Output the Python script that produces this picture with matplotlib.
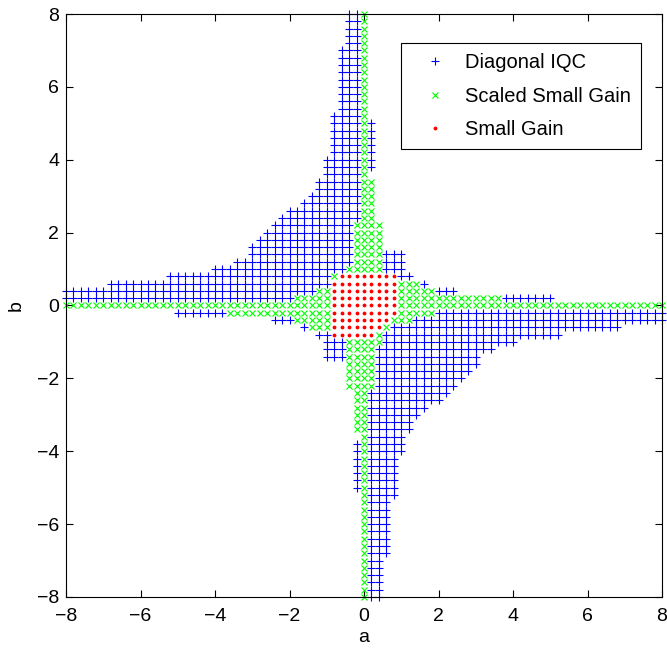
"""
Regions of (a, b) where each stability test succeeds, grid step 0.2.
"""

import numpy as np
from matplotlib import pyplot as plt

# grid of (a, b) values that were tested
a_values = np.round(np.arange(-40, 41) * 0.2, 1)
b_values = np.round(np.arange(-40, 41) * 0.2, 1)

# boxes (a_min, a_max, b_min, b_max)
diag_iqc_boxes = [
    # upper arm / left arm
    (-0.4, -0.2, 7.2, 8.0),
    (-0.6, -0.2, 5.4, 7.0),
    (-0.8, -0.2, 4.2, 5.2),
    (-1.0, -0.2, 3.6, 4.0),
    (-1.2, -0.2, 3.2, 3.4),
    (-1.4, -0.2, 3.0, 3.0),
    (-1.6, -0.2, 2.8, 2.8),
    (-2.0, -0.2, 2.6, 2.6),
    (-2.2, -0.2, 2.4, 2.4),
    (-2.4, -0.2, 2.2, 2.2),
    (-2.6, -0.2, 2.0, 2.0),
    (-2.8, -0.2, 1.8, 1.8),
    (-3.0, -0.2, 1.6, 1.6),
    (-3.0, -0.2, 1.4, 1.4),
    (-3.4, -0.2, 1.2, 1.2),
    (-4.0, -0.2, 1.0, 1.0),
    (-5.2, -0.2, 0.8, 0.8),
    (-6.8, -0.2, 0.6, 0.6),
    (-8.0, -0.2, 0.2, 0.4),
    (-5.0, -3.8, -0.2, -0.2),
    (-2.4, -2.0, -0.4, -0.4),
    (-1.6, -1.6, -0.6, -0.6),
    (0.2, 0.2, 3.8, 5.0),
    (0.6, 1.0, 1.0, 1.4),
    (1.0, 1.2, 0.8, 0.8),
    # lower arm / right arm
    (0.2, 0.4, -8.0, -7.0),
    (0.2, 0.6, -6.8, -5.4),
    (0.2, 0.8, -5.2, -4.2),
    (0.2, 1.0, -4.0, -3.6),
    (0.2, 1.2, -3.4, -3.2),
    (0.2, 1.4, -3.0, -3.0),
    (0.2, 1.6, -2.8, -2.8),
    (0.2, 2.0, -2.6, -2.6),
    (0.2, 2.2, -2.4, -2.4),
    (0.2, 2.4, -2.2, -2.2),
    (0.2, 2.6, -2.0, -2.0),
    (0.2, 2.8, -1.8, -1.8),
    (0.2, 3.0, -1.6, -1.6),
    (0.2, 3.0, -1.4, -1.4),
    (0.2, 3.4, -1.2, -1.2),
    (0.2, 4.0, -1.0, -1.0),
    (0.2, 5.2, -0.8, -0.8),
    (0.2, 6.8, -0.6, -0.6),
    (0.2, 8.0, -0.4, -0.2),
    (3.8, 5.0, 0.2, 0.2),
    (2.0, 2.4, 0.4, 0.4),
    (1.6, 1.6, 0.6, 0.6),
    (-0.2, -0.2, -5.0, -3.8),
    (-1.0, -0.6, -1.4, -1.0),
    (-1.2, -1.0, -0.8, -0.8),
]

scaled_small_gain_boxes = [
    # upper petal
    (0.0, 0.0, 3.6, 8.0),
    (0.0, 0.2, 2.4, 3.4),
    (-0.2, 0.4, 1.2, 2.2),
    (-0.4, 0.4, 1.0, 1.0),
    # left petal
    (-8.0, -1.0, 0.0, 0.0),
    (-3.6, -1.0, -0.2, -0.2),
    (-1.8, -1.0, 0.2, 0.2),
    (-1.2, -1.0, 0.4, 0.4),
    (-1.8, -1.0, -0.4, -0.4),
    (-1.4, -1.0, -0.6, -0.6),
    # right petal
    (1.0, 8.0, 0.0, 0.0),
    (1.0, 3.6, 0.2, 0.2),
    (1.0, 1.8, 0.4, 0.4),
    (1.0, 1.4, 0.6, 0.6),
    (1.0, 1.8, -0.2, -0.2),
    (1.0, 1.2, -0.4, -0.4),
    # lower petal
    (0.0, 0.0, -8.0, -3.6),
    (-0.2, 0.0, -3.4, -2.4),
    (-0.4, 0.2, -2.2, -1.2),
    (-0.4, 0.4, -1.0, -1.0),
]

small_gain_boxes = [
    (-0.8, 0.8, -0.8, 0.8),
]
# cells of the small gain square where it fails, and what holds there
small_gain_gaps_ssg = [
    (-0.8, -0.8, 0.8, 0.8),
    (0.8, 0.8, -0.4, -0.4),
    (0.6, 0.6, -0.6, -0.6),
    (0.4, 0.4, -0.8, -0.8),
]
small_gain_gaps_iqc = [
    (0.8, 0.8, -0.6, -0.6),
    (0.6, 0.8, -0.8, -0.8),
]


def fill_boxes(labels, A, B, boxes, value):
    eps = 1e-9
    for a0, a1, b0, b1 in boxes:
        mask = (A >= a0 - eps) & (A <= a1 + eps) & (B >= b0 - eps) & (B <= b1 + eps)
        labels[mask] = value
    return labels


def main():
    A, B = np.meshgrid(a_values, b_values)
    labels = np.zeros(A.shape, dtype=int)
    labels = fill_boxes(labels, A, B, diag_iqc_boxes, 1)
    labels = fill_boxes(labels, A, B, scaled_small_gain_boxes, 2)
    labels = fill_boxes(labels, A, B, small_gain_boxes, 3)
    labels = fill_boxes(labels, A, B, small_gain_gaps_ssg, 2)
    labels = fill_boxes(labels, A, B, small_gain_gaps_iqc, 1)

    plt.rcParams['font.family'] = ['Liberation Sans', 'DejaVu Sans']
    fig = plt.figure(figsize=(6.67, 6.52), dpi=100)
    ax = fig.add_axes([0.099, 0.0844, 0.8935, 0.8941])

    ax.plot(A[labels == 1], B[labels == 1], '+', color=(0, 0, 1), ms=5.5, mew=0.8,
            clip_on=False, label='Diagonal IQC')
    ax.plot(A[labels == 2], B[labels == 2], 'x', color=(0, 1, 0), ms=5.0, mew=0.8,
            clip_on=False, label='Scaled Small Gain')
    ax.plot(A[labels == 3], B[labels == 3], '.', color=(1, 0, 0), ms=3.5,
            clip_on=False, label='Small Gain')

    ax.set_xlim(-8, 8)
    ax.set_ylim(-8, 8)
    ax.set_xticks(np.arange(-8, 9, 2))
    ax.set_yticks(np.arange(-8, 9, 2))
    ax.tick_params(direction='in', labelsize=14, length=5, top=True, right=True)
    ax.tick_params(axis='x', pad=8)
    ax.tick_params(axis='y', pad=5)
    ax.set_xlabel('a', fontsize=14, labelpad=3)
    ax.set_ylabel('b', fontsize=14, labelpad=9)

    leg = ax.legend(loc='upper right', bbox_to_anchor=(0.965, 0.95), borderaxespad=0,
                    fontsize=14.5, fancybox=False, edgecolor='black', framealpha=1,
                    borderpad=0.5, labelspacing=0.72, handlelength=2.4,
                    handletextpad=0.3)
    leg.get_frame().set_linewidth(0.8)

    plt.savefig('out.png', dpi=100)


if __name__ == '__main__':
    main()
